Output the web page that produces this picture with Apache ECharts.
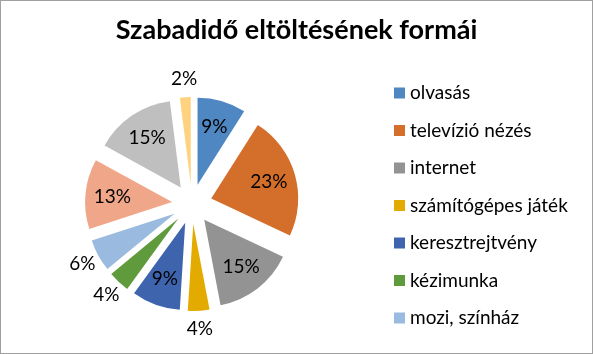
<!DOCTYPE html>
<html>
<head>
<meta charset="utf-8">
<script src="https://cdn.jsdelivr.net/npm/echarts@6/dist/echarts.min.js"></script>
<style>
  html, body { margin: 0; padding: 0; background: #fff; }
  #chart { width: 593px; height: 354px; box-sizing: border-box; border: 1px solid #a0a0a0; }
</style>
</head>
<body>
<div id="chart"></div>
<script>
// kategóriák (a jelmagyarázat csak az első hetet mutatja)
let categories = ['olvasás', 'televízió nézés', 'internet', 'számítógépes játék',
    'keresztrejtvény', 'kézimunka', 'mozi, színház', 'sport', 'zenehallgatás', 'egyéb'];
let values = [9, 23, 15, 4, 9, 4, 6, 13, 15, 2];
let colors = ['#4f87c2', '#d46f2b', '#939393', '#e3ab00', '#3d64ad',
    '#5f9a3d', '#9abadf', '#f0a688', '#bfbfbf', '#ffd27f'];
let legendNames = categories.slice(0, 7);

let center = [191, 203];
let radius = 87;
let offset = 20;

let total = values.reduce((a, b) => a + b, 0);

// címkék helye: a szelet felezőjén, kicsiknél kívül
function labelPos(i) {
    let before = 0;
    for (let k = 0; k < i; k++) before += values[k];
    let mid = (before + values[i] / 2) / total * Math.PI * 2;
    let d = values[i] < 7 ? 125 : 80;
    return [center[0] + d * Math.sin(mid), center[1] - d * Math.cos(mid)];
}

let option = {
    animation: false,
    title: {
        text: 'Szabadidő eltöltésének formái',
        left: 'center',
        top: 11,
        textStyle: {
            fontFamily: 'Lato',
            fontWeight: 'bold',
            fontSize: 27,
            color: '#000'
        }
    },
    legend: {
        data: legendNames,
        orient: 'vertical',
        left: 393,
        top: 82,
        padding: 0,
        itemWidth: 11,
        itemHeight: 11,
        itemGap: 17.5,
        icon: 'rect',
        selectedMode: false,
        textStyle: {
            fontFamily: 'Lato',
            fontSize: 19,
            lineHeight: 20,
            color: '#000'
        }
    },
    series: [{
        // kiemelt (széthúzott) szeletek
        type: 'pie',
        center: center,
        radius: radius,
        startAngle: 90,
        clockwise: true,
        selectedMode: 'multiple',
        selectedOffset: offset,
        select: { itemStyle: { borderWidth: 0 } },
        emphasis: { disabled: true },
        label: { show: false },
        labelLine: { show: false },
        data: categories.map((name, i) => ({
            name: name,
            value: values[i],
            selected: true,
            itemStyle: { color: colors[i] }
        }))
    }, {
        // csak a százalék-címkék
        type: 'pie',
        center: center,
        radius: radius,
        startAngle: 90,
        clockwise: true,
        silent: true,
        selectedMode: false,
        avoidLabelOverlap: false,
        itemStyle: { color: 'rgba(0,0,0,0)' },
        emphasis: { disabled: true },
        label: {
            show: true,
            position: 'inside',
            formatter: p => p.value + '%',
            fontFamily: 'Lato',
            fontSize: 19,
            color: '#000'
        },
        labelLine: { show: false },
        labelLayout: params => {
            let pos = labelPos(params.dataIndex);
            return { x: pos[0], y: pos[1], align: 'center', verticalAlign: 'middle' };
        },
        data: categories.map((name, i) => ({ name: name, value: values[i] }))
    }]
};

echarts.init(document.getElementById('chart')).setOption(option);
</script>
</body>
</html>
